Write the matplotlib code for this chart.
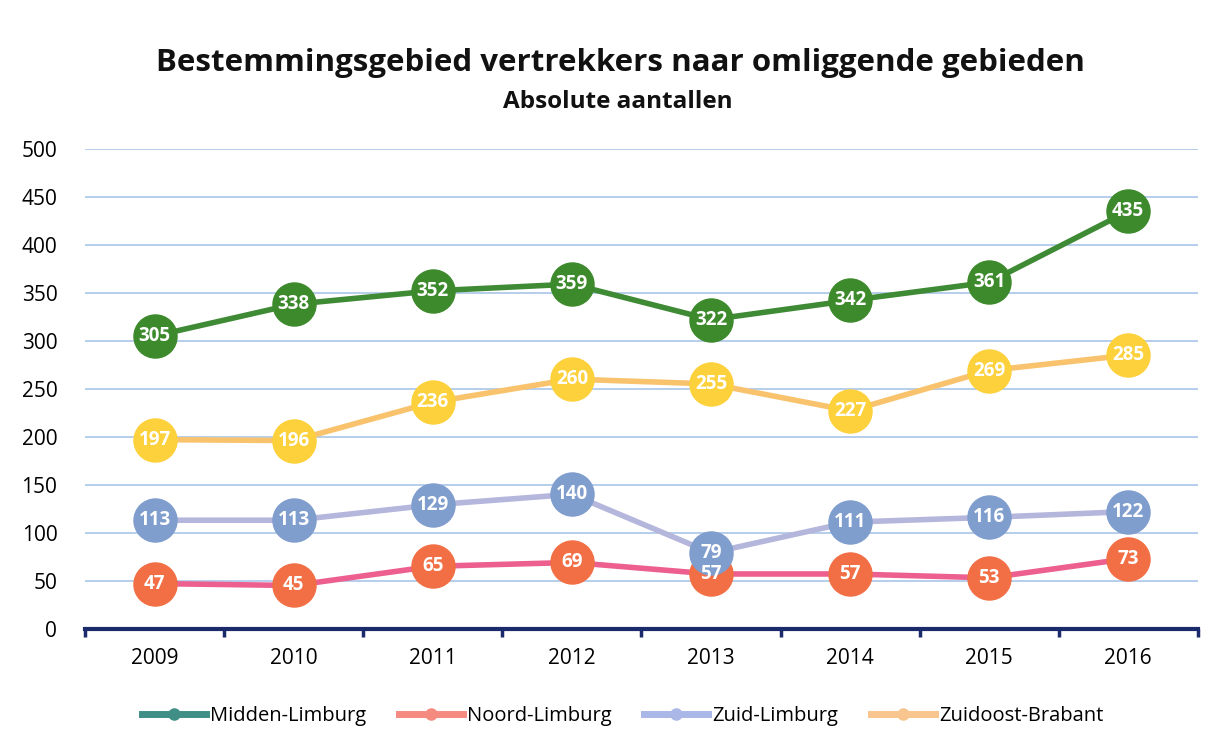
import numpy as np
import matplotlib.pyplot as plt
from matplotlib.lines import Line2D

# Data
years = ['2009', '2010', '2011', '2012', '2013', '2014', '2015', '2016']
midden = [305, 338, 352, 359, 322, 342, 361, 435]
noord = [47, 45, 65, 69, 57, 57, 53, 73]
zuid = [113, 113, 129, 140, 79, 111, 116, 122]
brabant = [197, 196, 236, 260, 255, 227, 269, 285]

series = [
    # name, values, line colour, marker colour
    ('Midden-Limburg', midden, '#3f8a35', '#3d8a2c'),
    ('Noord-Limburg', noord, '#ec5f8e', '#f26f45'),
    ('Zuid-Limburg', zuid, '#b4b6dc', '#7f9dcd'),
    ('Zuidoost-Brabant', brabant, '#f8c36c', '#fdd13b'),
]
legend_cols = ['#3f8f86', '#f48a80', '#aab8e8', '#f9c58e']

plt.rcParams['font.family'] = ['Open Sans', 'DejaVu Sans']

fig = plt.figure(figsize=(12.16, 7.44), dpi=100)
ax = fig.add_axes([0.07, 0.155, 0.915, 0.645])

x = np.arange(len(years))
for name, vals, lc, mc in series:
    ax.plot(x, vals, color=lc, lw=4, zorder=2)
    ax.plot(x, vals, 'o', ms=31, color=mc, mec=mc, zorder=3)
    for xi, v in zip(x, vals):
        ax.text(xi, v, str(v), ha='center', va='center', color='white',
                fontsize=13.5, fontweight='bold', zorder=4)

ax.set_xlim(-0.5, len(years) - 0.5)
ax.set_ylim(0, 500)
ax.set_yticks(range(0, 501, 50))
ax.set_xticks(x)
ax.set_xticklabels(years)
ax.tick_params(axis='y', length=0, labelsize=15, pad=20)
ax.tick_params(axis='x', length=0, labelsize=15, pad=14)
ax.set_xticks(np.arange(-0.5, len(years)), minor=True)
ax.tick_params(axis='x', which='minor', length=6, width=2.5, color='#1b2a6b', direction='out')
ax.grid(axis='y', color='#a9c6e6', lw=1.2)
ax.set_axisbelow(True)
for s in ['top', 'right', 'left']:
    ax.spines[s].set_visible(False)
ax.spines['bottom'].set_color('#1b2a6b')
ax.spines['bottom'].set_linewidth(3)

fig.text(0.51, 0.905, 'Bestemmingsgebied vertrekkers naar omliggende gebieden',
         ha='center', fontsize=22.5, fontweight='bold', color='#111111')
fig.text(0.508, 0.855, 'Absolute aantallen', ha='center', fontsize=17.5,
         fontweight='bold', color='#111111')

handles = [Line2D([0], [0], color=c, lw=5, marker='o', ms=8, mfc=c, mec=c)
           for c in legend_cols]
fig.legend(handles, [s[0] for s in series], loc='lower center',
           bbox_to_anchor=(0.512, 0.0), ncol=4, frameon=False, fontsize=14.5,
           handlelength=3.2, handletextpad=0.2, columnspacing=1.6)

fig.savefig('out.png', dpi=100)
